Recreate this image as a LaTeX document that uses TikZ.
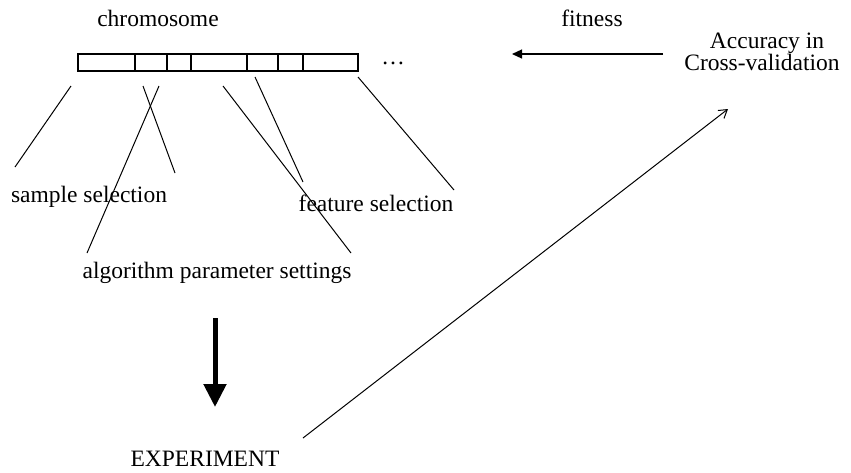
\documentclass[tikz,border=0pt]{standalone}
\usepackage{fontspec}
\setmainfont{Liberation Serif}
\usetikzlibrary{arrows.meta}
\begin{document}
\begin{tikzpicture}[x=1pt,y=-1pt,
  lbl/.style={anchor=base,inner sep=0pt,font=\fontsize{23.5}{24}\selectfont},
  thin/.style={line width=1pt},
  cell/.style={draw,line width=1.2pt}]
\useasboundingbox (0,0) rectangle (851,472);
% chromosome bar
\coordinate (b0) at (78,54);
\coordinate (b1) at (358,71);
\draw[cell] (b0) rectangle (b1);
\foreach \x in {135,167,191,247,278,303}{\draw[line width=1.2pt] (\x,54) -- (\x,71);}
% texts
\node[lbl] (chrom) at (158,26) {chromosome};
\node[lbl] (fit) at (592,26) {fitness};
\node[lbl] (dots) at (393,64) {\ldots};
\node[lbl] (acc1) at (767,48) {Accuracy in};
\node[lbl] (acc2) at (762,70) {Cross-validation};
\node[lbl] (samp) at (89,202) {sample selection};
\node[lbl] (feat) at (376,211) {feature selection};
\node[lbl] (algo) at (217,278) {algorithm parameter settings};
\node[lbl] (exp) at (205,466) {EXPERIMENT};
% line endpoints
\coordinate (l1a) at (71,86);  \coordinate (l1b) at (15,167);
\coordinate (l2a) at (143,86); \coordinate (l2b) at (175,173);
\coordinate (l3a) at (159,86); \coordinate (l3b) at (87,253);
\coordinate (l4a) at (223,86); \coordinate (l4b) at (351,253);
\coordinate (l5a) at (255,77); \coordinate (l5b) at (303,182);
\coordinate (l6a) at (358,77); \coordinate (l6b) at (454,190);
\draw[thin] (l1a) -- (l1b);
\draw[thin] (l2a) -- (l2b);
\draw[thin] (l3a) -- (l3b);
\draw[thin] (l4a) -- (l4b);
\draw[thin] (l5a) -- (l5b);
\draw[thin] (l6a) -- (l6b);
% fitness arrow
\coordinate (fa) at (663,54); \coordinate (fb) at (512,54);
\draw[line width=1.2pt,-{Triangle[length=10pt,width=9pt]}] (fa) -- (fb);
% thick arrow
\coordinate (ta) at (215,318); \coordinate (tb) at (215,407);
\draw[line width=5pt,-{Triangle[length=23pt,width=22pt]}] (ta) -- (tb);
% diagonal arrow
\coordinate (da) at (303,438); \coordinate (db) at (728,109);
\draw[thin,-{Straight Barb[length=8pt,width=10pt]}] (da) -- (db);
\end{tikzpicture}
\end{document}
